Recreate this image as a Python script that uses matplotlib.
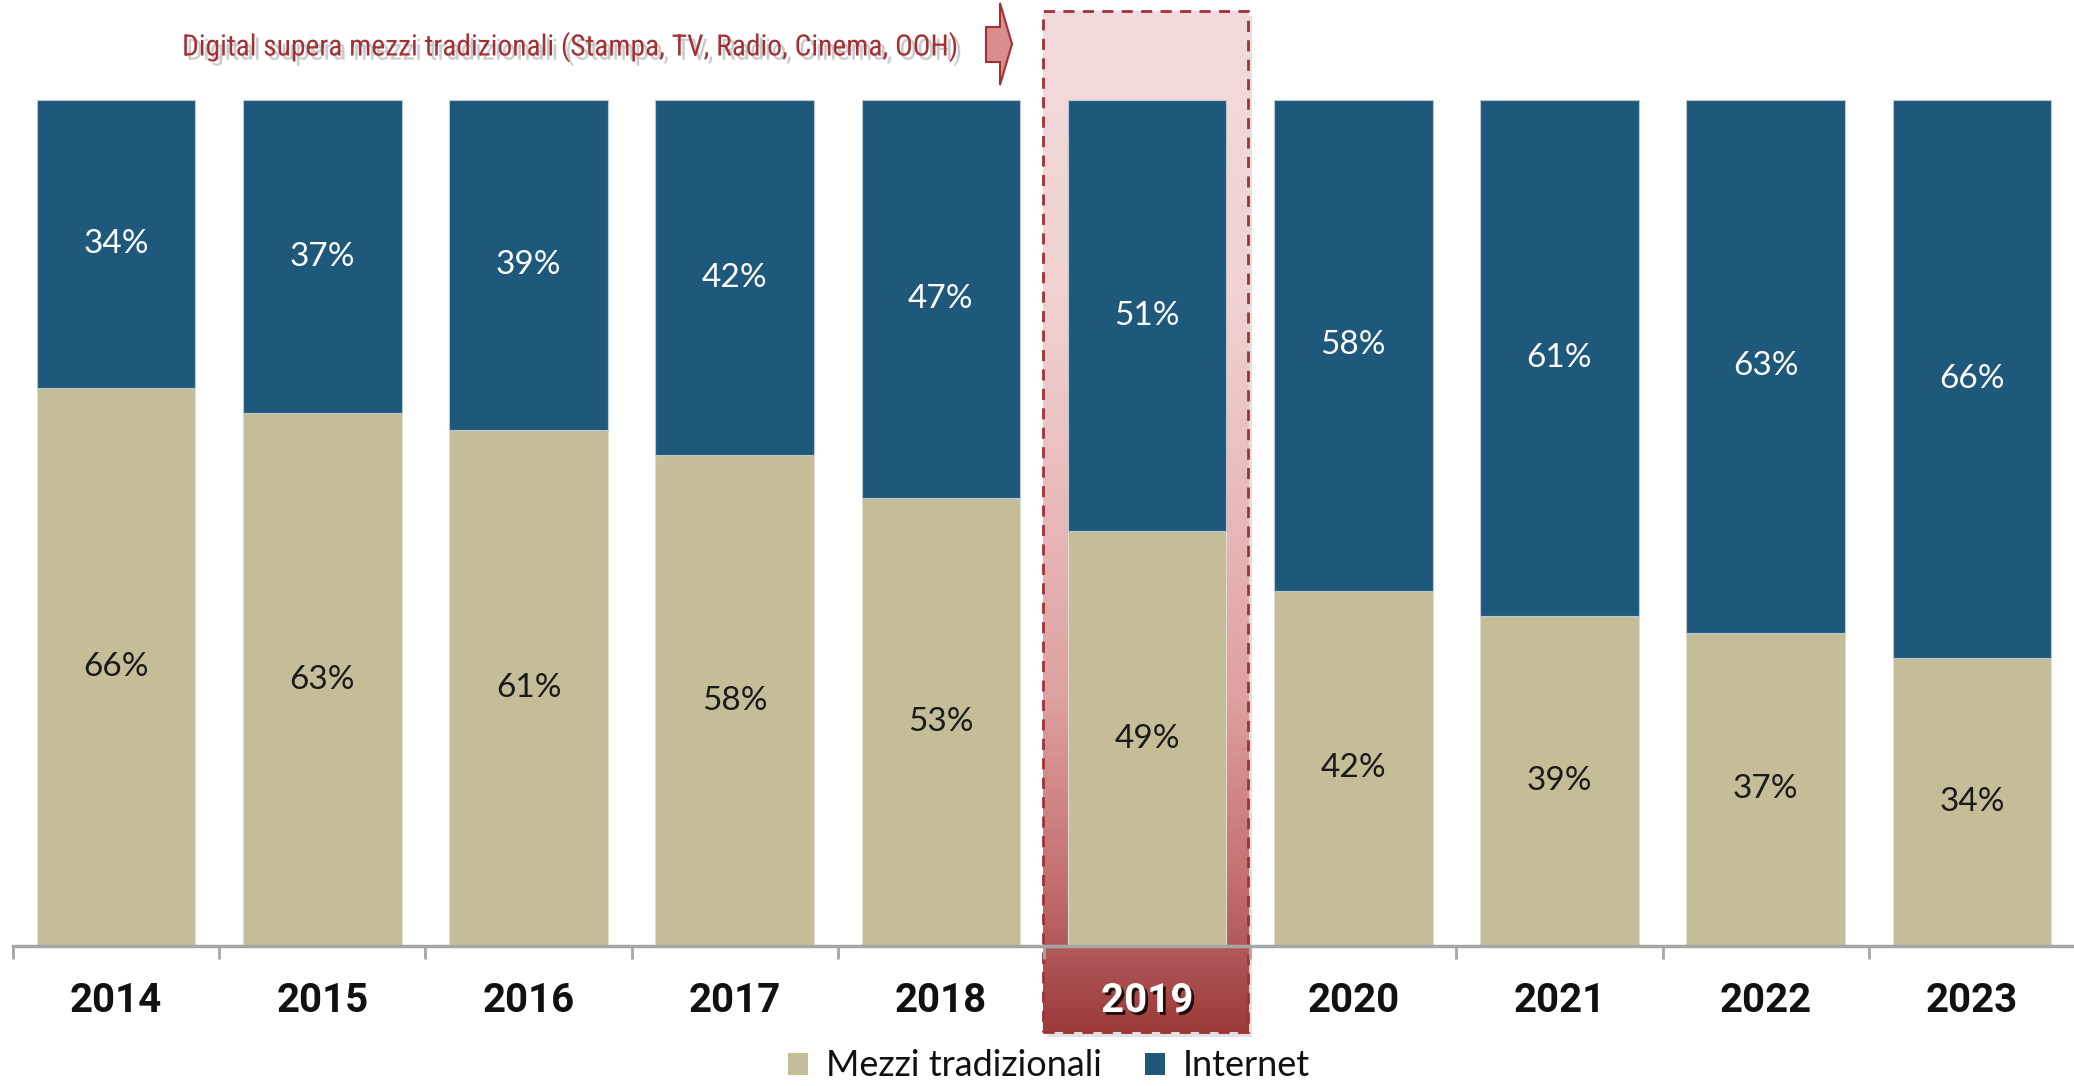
import numpy as np
import matplotlib
matplotlib.use("Agg")
import matplotlib.pyplot as plt
import matplotlib.patheffects as pe
from matplotlib.patches import Rectangle, Polygon, Patch
from matplotlib import font_manager as fm

# ---- data ----
years = ["2014", "2015", "2016", "2017", "2018", "2019", "2020", "2021", "2022", "2023"]
tradizionali = [66, 63, 61, 58, 53, 49, 42, 39, 37, 34]
internet = [34, 37, 39, 42, 47, 51, 58, 61, 63, 66]
highlight_year = "2019"
annotation = "Digital supera mezzi tradizionali (Stampa, TV, Radio, Cinema, OOH)"
legend_labels = ["Mezzi tradizionali", "Internet"]

# ---- style ----
TAN = "#c5bd98"
BLUE = "#1e587a"
DARKRED = "#a33035"
W, H = 2074, 1086
fig = plt.figure(figsize=(W / 100, H / 100), dpi=100)
ax_left, ax_bottom_px, ax_top_px = 13, 946, 100
ax = fig.add_axes([ax_left / W, (H - ax_bottom_px) / H, (2075 - ax_left) / W,
                   (ax_bottom_px - ax_top_px) / H])

x = np.arange(len(years))
trad = np.array(tradizionali) / 100
inet = np.array(internet) / 100

# highlight gradient box behind 2019
hi = years.index(highlight_year)
y_top = (ax_bottom_px - 11) / (ax_bottom_px - ax_top_px)
y_bot = -(1032 - ax_bottom_px) / (ax_bottom_px - ax_top_px)
x0, x1 = hi - 0.505, hi + 0.49
stops_px = [11, 300, 500, 700, 880, 946, 1032]
stops_rgb = [(243, 219, 219), (240, 210, 210), (233, 186, 186), (222, 160, 160),
             (196, 112, 112), (178, 90, 90), (155, 58, 58)]
rows = np.linspace(11, 1032, 400)
grad = np.zeros((len(rows), 1, 3))
for c in range(3):
    grad[:, 0, c] = np.interp(rows, stops_px, [s[c] / 255 for s in stops_rgb])
ax.add_patch(Rectangle((x0 + 0.02, y_bot - 0.006), x1 - x0, y_top - y_bot,
                       facecolor="#888888", alpha=0.25, edgecolor="none",
                       clip_on=False, zorder=0.3))
ax.imshow(grad, extent=(x0, x1, y_bot, y_top), aspect="auto", origin="upper",
          clip_on=False, zorder=0.5, interpolation="bilinear")
ax.add_patch(Rectangle((x0, y_bot), x1 - x0, y_top - y_bot, facecolor="none",
                       edgecolor=DARKRED, lw=2, linestyle=(0, (4, 3)),
                       clip_on=False, zorder=0.6))

# bars
ax.bar(x, trad, width=0.77, color=TAN, edgecolor="#dcdcd0", linewidth=0.8, zorder=2)
ax.bar(x, inet, width=0.77, bottom=trad, color=BLUE, edgecolor="#b9c8d3", linewidth=0.8, zorder=2)

pct_font = dict(family=["Lato", "DejaVu Sans"], fontsize=24)
for i in range(len(years)):
    ax.text(x[i], trad[i] / 2, f"{tradizionali[i]}%", ha="center", va="center",
            color="#1a1a1a", zorder=3, **pct_font)
    ax.text(x[i], trad[i] + inet[i] / 2, f"{internet[i]}%", ha="center", va="center",
            color="white", zorder=3, **pct_font)

ax.set_xlim(-0.5, len(years) - 0.5)
ax.set_ylim(0, 1)
for s in ["top", "right", "left"]:
    ax.spines[s].set_visible(False)
ax.spines["bottom"].set_color("#a6a6a6")
ax.spines["bottom"].set_linewidth(2.5)
ax.spines["bottom"].set_zorder(4)
ax.set_yticks([])
ax.set_xticks(x, labels=[""] * len(years))
ax.tick_params(axis="x", which="major", length=0)
ax.set_xticks(np.arange(-0.5, len(years)), minor=True)
ax.tick_params(axis="x", which="minor", length=9.5, width=2, color="#a6a6a6")
ax.set_facecolor("none")

ybase = -(1012 - ax_bottom_px) / (ax_bottom_px - ax_top_px)
for i, yr in enumerate(years):
    if yr == highlight_year:
        ax.text(x[i], ybase, yr, ha="center", va="baseline", fontsize=29,
                fontweight="bold", family=["Roboto", "DejaVu Sans"], color="white",
                clip_on=False, zorder=5,
                path_effects=[pe.SimplePatchShadow(offset=(2, -2), shadow_rgbFace="black", alpha=0.8),
                              pe.Normal()])
    else:
        ax.text(x[i], ybase, yr, ha="center", va="baseline", fontsize=29,
                fontweight="bold", family=["Roboto", "DejaVu Sans"], color="#111111",
                clip_on=False, zorder=5)

# find a condensed / narrow font for the annotation
cond_prop = None
prefs = ["narrow", "condensed"]
cands = []
for f in fm.fontManager.ttflist:
    nm = (f.name + " " + f.fname).lower()
    st = str(f.stretch).lower()
    if (("narrow" in nm or "condensed" in nm or st in ("condensed", "semi-condensed", "extra-condensed"))
            and "bold" not in f.fname.lower() and "italic" not in f.fname.lower()
            and "oblique" not in f.fname.lower() and "light" not in f.fname.lower()):
        score = 0 if "liberation" in nm else (1 if "roboto" in nm else 2)
        cands.append((score, f.fname))
if cands:
    cands.sort()
    cond_prop = fm.FontProperties(fname=cands[0][1])
else:
    cond_prop = fm.FontProperties(family="DejaVu Sans")

ann = fig.text(182 / W, (H - 47) / H, annotation, ha="left", va="center",
               color=DARKRED, fontproperties=cond_prop,
               path_effects=[pe.SimplePatchShadow(offset=(3, -3), shadow_rgbFace="#999999", alpha=0.5),
                             pe.Normal()])
ann.set_fontsize(22)
fig.canvas.draw()
wpx = ann.get_window_extent().width
ann.set_fontsize(22 * 775 / wpx)

arrow_px = [(986, 27), (1000, 27), (1000, 3), (1012, 44), (1000, 85), (1000, 62), (986, 62)]
fig.patches.append(Polygon([(px / W, (H - py) / H) for px, py in arrow_px], closed=True,
                           facecolor="#d98e8e", edgecolor=DARKRED, lw=1.5,
                           transform=fig.transFigure, figure=fig))

# legend
handles = [Patch(facecolor=TAN, edgecolor="none"), Patch(facecolor=BLUE, edgecolor="none")]
fig.legend(handles, legend_labels, loc="center", bbox_to_anchor=(1049 / W, (H - 1066) / H),
           ncol=2, frameon=False, prop=dict(family=["Lato", "DejaVu Sans"], size=26),
           handlelength=0.55, handleheight=0.55, handletextpad=0.5, columnspacing=1.2,
           labelcolor="#111111")

fig.savefig("out.png", dpi=100)
